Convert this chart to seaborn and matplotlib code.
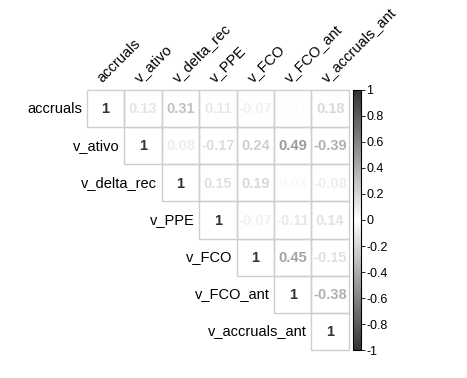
import numpy as np
import pandas as pd
import matplotlib
matplotlib.use("Agg")
import matplotlib.pyplot as plt
import seaborn as sns
from matplotlib.colors import LinearSegmentedColormap, Normalize
from matplotlib.cm import ScalarMappable
from matplotlib.patches import Rectangle

# variaveis e correlacoes (triangulo superior, lido linha a linha)
variaveis = ["accruals", "v_ativo", "v_delta_rec", "v_PPE", "v_FCO", "v_FCO_ant", "v_accruals_ant"]
r_accruals = [1, 0.13, 0.31, 0.11, -0.07, 0.01, 0.18]
r_v_ativo = [1, 0.08, -0.17, 0.24, 0.49, -0.39]
r_v_delta_rec = [1, 0.15, 0.19, 0.03, -0.08]
r_v_PPE = [1, -0.07, -0.11, 0.14]
r_v_FCO = [1, 0.45, -0.15]
r_v_FCO_ant = [1, -0.38]
r_v_accruals_ant = [1]
linhas = [r_accruals, r_v_ativo, r_v_delta_rec, r_v_PPE, r_v_FCO, r_v_FCO_ant, r_v_accruals_ant]
cbar_ticks = [1, 0.8, 0.6, 0.4, 0.2, 0, -0.2, -0.4, -0.6, -0.8, -1]

n = len(variaveis)
mat = np.full((n, n), np.nan)
for i, lin in enumerate(linhas):
    mat[i, i:] = lin
df = pd.DataFrame(mat, index=variaveis, columns=variaveis)
mask = np.tril(np.ones((n, n), dtype=bool), k=-1)

plt.rcParams['font.family'] = ['Liberation Sans', 'DejaVu Sans']

cinza = LinearSegmentedColormap.from_list("cinza", ["#333333", "#ffffff", "#333333"])
branco = LinearSegmentedColormap.from_list("branco", ["#ffffff", "#ffffff"])
norm = Normalize(-1, 1)

fig = plt.figure(figsize=(4.67, 3.78), dpi=100)
ax = fig.add_axes([0.186, 0.074, 0.561, 0.688])
sns.heatmap(df, mask=mask, cmap=branco, cbar=False, linewidths=0,
            ax=ax, xticklabels=False, yticklabels=False)
ax.axis("off")

for i in range(n):
    for j in range(i, n):
        v = mat[i, j]
        ax.add_patch(Rectangle((j, i), 1, 1, fill=False, edgecolor="#cfcfcf", lw=1, clip_on=False))
        txt = "1" if v == 1 else f"{v:.2f}"
        ax.text(j + 0.5, i + 0.52, txt, ha="center", va="center", fontsize=10.5,
                fontweight="bold", color=cinza(norm(v)))
    # rotulo da linha a esquerda da diagonal
    ax.text(i - 0.12, i + 0.5, variaveis[i], ha="right", va="center", fontsize=10.5)
    # rotulo da coluna, inclinado
    ax.text(i + 0.48, -0.12, variaveis[i], ha="left", va="bottom", fontsize=10.5,
            rotation=45, rotation_mode="anchor")

ax.set_xlim(0, n)
ax.set_ylim(n, 0)

cax = fig.add_axes([0.756, 0.074, 0.017, 0.688])
cb = fig.colorbar(ScalarMappable(norm=norm, cmap=cinza), cax=cax, ticks=cbar_ticks)
cb.ax.set_yticklabels([f"{t:g}" for t in cbar_ticks])
cb.ax.tick_params(labelsize=9, length=3, width=0.6, pad=1)
cb.outline.set_linewidth(0.8)

fig.savefig("out.png", dpi=100)
